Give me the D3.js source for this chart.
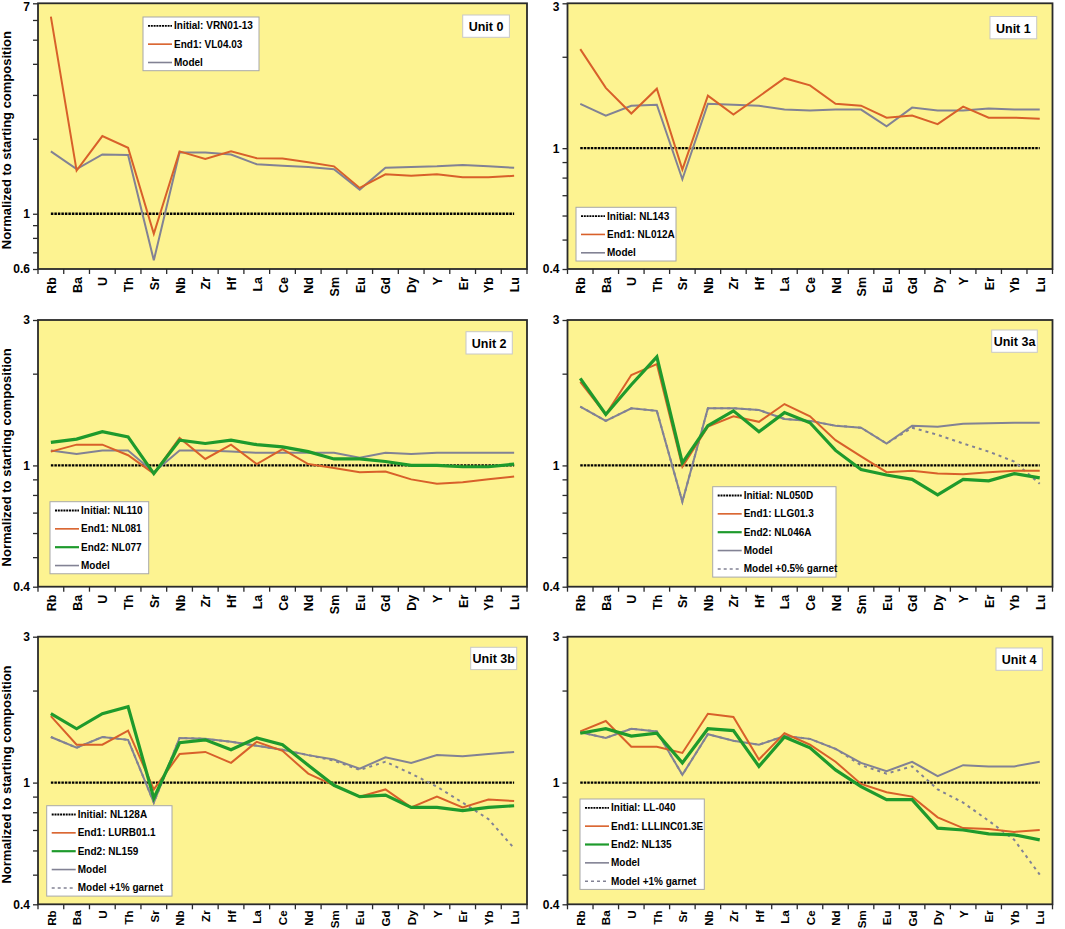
<!DOCTYPE html>
<html><head><meta charset="utf-8">
<script src="https://cdn.jsdelivr.net/npm/d3@7/dist/d3.min.js"></script>
<style>body{margin:0;background:#fff;}svg{display:block;font-family:"Liberation Sans",Arial,sans-serif;}</style>
</head><body>
<svg id="chart" width="1065" height="929"></svg>
<script>
const elements = ["Rb","Ba","U","Th","Sr","Nb","Zr","Hf","La","Ce","Nd","Sm","Eu","Gd","Dy","Y","Er","Yb","Lu"];
const ticksWide = [0.6,0.7,0.8,0.9,1,2,3,4,5,6,7];
const ticksNarrow = [0.4,0.5,0.6,0.7,0.8,0.9,1,2,3];
const labelsWide = [0.6,1,7];
const labelsNarrow = [0.4,1,3];
const initialLevel = [1,1,1,1,1,1,1,1,1,1,1,1,1,1,1,1,1,1,1];

const unit0End1  = [6.19,1.49,2.05,1.84,0.83,1.78,1.66,1.78,1.67,1.665,1.61,1.55,1.27,1.44,1.42,1.44,1.40,1.40,1.42];
const unit0Model = [1.78,1.51,1.73,1.72,0.65,1.76,1.76,1.73,1.58,1.56,1.54,1.51,1.25,1.53,1.54,1.55,1.57,1.55,1.53];

const unit1End1  = [2.12,1.58,1.30,1.57,0.85,1.49,1.29,1.48,1.70,1.61,1.40,1.38,1.26,1.28,1.20,1.37,1.26,1.26,1.25];
const unit1Model = [1.40,1.28,1.38,1.39,0.79,1.40,1.39,1.38,1.34,1.33,1.34,1.34,1.18,1.36,1.33,1.33,1.35,1.34,1.34];

const unit2End1  = [1.11,1.17,1.17,1.08,0.94,1.23,1.05,1.17,1.01,1.13,1.01,0.98,0.95,0.955,0.90,0.87,0.88,0.90,0.92];
const unit2End2  = [1.19,1.22,1.29,1.24,0.94,1.21,1.18,1.21,1.17,1.15,1.11,1.05,1.05,1.03,1.00,1.00,0.99,0.99,1.01];
const unit2Model = [1.12,1.09,1.12,1.12,0.95,1.12,1.12,1.11,1.10,1.10,1.10,1.10,1.06,1.10,1.09,1.10,1.10,1.10,1.10];

const unit3aEnd1   = [1.88,1.47,1.98,2.15,0.99,1.34,1.45,1.39,1.59,1.45,1.21,1.07,0.95,0.96,0.94,0.935,0.95,0.96,0.96];
const unit3aEnd2   = [1.93,1.47,1.84,2.27,1.02,1.35,1.51,1.29,1.49,1.38,1.12,0.97,0.93,0.90,0.80,0.90,0.89,0.94,0.91];
const unit3aModel  = [1.56,1.40,1.54,1.51,0.76,1.54,1.54,1.52,1.42,1.40,1.35,1.33,1.18,1.35,1.34,1.37,1.375,1.38,1.38];
const unit3aGarnet = [1.56,1.40,1.54,1.51,0.76,1.54,1.54,1.52,1.42,1.40,1.35,1.33,1.18,1.33,1.26,1.18,1.11,1.03,0.87];

const unit3bEnd1   = [1.65,1.33,1.33,1.48,0.95,1.24,1.26,1.16,1.36,1.27,1.07,0.98,0.90,0.95,0.83,0.90,0.83,0.88,0.87];
const unit3bEnd2   = [1.68,1.50,1.68,1.77,0.89,1.35,1.38,1.28,1.40,1.33,1.14,0.98,0.90,0.91,0.83,0.83,0.81,0.83,0.84];
const unit3bModel  = [1.41,1.30,1.41,1.38,0.86,1.40,1.39,1.36,1.32,1.28,1.23,1.19,1.11,1.21,1.16,1.23,1.22,1.24,1.26];
const unit3bGarnet = [1.41,1.30,1.41,1.38,0.86,1.40,1.39,1.36,1.32,1.28,1.23,1.18,1.10,1.17,1.07,0.97,0.86,0.76,0.61];

const unit4End1   = [1.47,1.59,1.31,1.31,1.25,1.68,1.64,1.19,1.45,1.33,1.17,0.99,0.93,0.90,0.77,0.71,0.705,0.69,0.70];
const unit4End2   = [1.45,1.50,1.42,1.45,1.16,1.50,1.48,1.13,1.41,1.30,1.10,0.97,0.88,0.88,0.71,0.70,0.68,0.675,0.65];
const unit4Model  = [1.46,1.40,1.50,1.47,1.06,1.44,1.37,1.33,1.42,1.39,1.29,1.16,1.09,1.17,1.05,1.14,1.13,1.13,1.17];
const unit4Garnet = [1.46,1.40,1.50,1.47,1.06,1.44,1.37,1.33,1.42,1.39,1.29,1.14,1.07,1.13,0.95,0.86,0.75,0.65,0.50];

const panelNames = ["Unit 0","Unit 1","Unit 2","Unit 3a","Unit 3b","Unit 4"];
const initialNames = ["VRN01-13","NL143","NL110","NL050D","NL128A","LL-040"];
const end1Names = ["VL04.03","NL012A","NL081","LLG01.3","LURB01.1","LLLINC01.3E"];
const end2Names = [null,null,"NL077","NL046A","NL159","NL135"];
const garnetNames = [null,null,null,"Model +0.5% garnet","Model +1% garnet","Model +1% garnet"];

// ---- styles ----
const C = {bg:"#fdf391", frame:"#2a2a2a", orange:"#d8602a", green:"#1e9a2c", gray:"#828294", black:"#000"};
const styles = {
  initial:{stroke:C.black, w:2.4, dash:"2.5,1", lw:1.8, ldash:"2,0.8"},
  end1:{stroke:C.orange, w:2, dash:null, lw:1.6, ldash:null},
  end2:{stroke:C.green, w:3.2, dash:null, lw:2.2, ldash:null},
  model:{stroke:C.gray, w:2, dash:null, lw:1.6, ldash:null},
  garnet:{stroke:C.gray, w:2, dash:"3,4", lw:1.5, ldash:"3,3"}
};

const panels = [
  {series:{initial:initialLevel,end1:unit0End1,model:unit0Model}, ticks:ticksWide, labels:labelsWide},
  {series:{initial:initialLevel,end1:unit1End1,model:unit1Model}, ticks:ticksNarrow, labels:labelsNarrow},
  {series:{initial:initialLevel,end1:unit2End1,end2:unit2End2,model:unit2Model}, ticks:ticksNarrow, labels:labelsNarrow},
  {series:{initial:initialLevel,end1:unit3aEnd1,end2:unit3aEnd2,model:unit3aModel,garnet:unit3aGarnet}, ticks:ticksNarrow, labels:labelsNarrow},
  {series:{initial:initialLevel,end1:unit3bEnd1,end2:unit3bEnd2,model:unit3bModel,garnet:unit3bGarnet}, ticks:ticksNarrow, labels:labelsNarrow},
  {series:{initial:initialLevel,end1:unit4End1,end2:unit4End2,model:unit4Model,garnet:unit4Garnet}, ticks:ticksNarrow, labels:labelsNarrow}
];

// layout (plot rects, legend and label box positions)
const colX = [[38,527],[567.5,1052.5]];
const rowY = [[3.3,269],[320,586.7],[636.7,904.3]];
const legendPos = [[143,17,116],[576,207.3,100],[50,501.7,98.7],[712.7,486.7,123.3],[46.7,805.7,125.3],[580,799,124.3]];
const labelPos = [[462.7,15,46.7],[990,16.5,46.7],[466,331.7,46.3],[991.7,330,45.6],[470.7,647.3,46],[996,648,46.3]];

const svg = d3.select("#chart");

panels.forEach((p,i)=>{
  const [x0,x1] = colX[i%2];
  const [y0,y1] = rowY[Math.floor(i/2)];
  const row = Math.floor(i/2);
  const dom = [p.ticks[0], p.ticks[p.ticks.length-1]];
  const x = d3.scalePoint().domain(elements).range([x0,x1]).padding(0.5);
  const y = d3.scaleLog().domain(dom).range([y1,y0]);
  const g = svg.append("g");

  g.append("rect").attr("x",x0).attr("y",y0).attr("width",x1-x0).attr("height",y1-y0)
    .attr("fill",C.bg);

  // y axis
  const yAxis = d3.axisLeft(y).tickValues(p.ticks).tickSize(5).tickPadding(3)
    .tickFormat(v=> p.labels.includes(v) ? d3.format("")(v) : "");
  const ya = g.append("g").attr("transform",`translate(${x0},0)`).call(yAxis);
  ya.select(".domain").remove();
  ya.selectAll(".tick line").attr("stroke",C.frame).attr("stroke-width",1.3);
  ya.selectAll(".tick text").attr("font-size",12).attr("font-weight","bold").attr("fill","#000")
    .attr("font-family","'Liberation Sans',Arial,sans-serif")
    .attr("dy", d => (row===0 && d===dom[1]) ? "0.62em" : "0.32em");

  // x axis ticks at boundaries
  const step = x.step();
  const bounds = d3.range(elements.length+1).map(k=>x0+k*step);
  g.selectAll(".xt").data(bounds).enter().append("line")
    .attr("x1",d=>d).attr("x2",d=>d).attr("y1",y1).attr("y2",y1+5)
    .attr("stroke",C.frame).attr("stroke-width",1.3);
  const xAxis = d3.axisBottom(x).tickSize(0).tickPadding(0);
  const xa = g.append("g").attr("transform",`translate(0,${y1})`).call(xAxis);
  xa.select(".domain").remove();
  xa.selectAll(".tick text")
    .attr("transform","rotate(-90)").attr("x",row===2?-6:-8).attr("y",0).attr("dy","0.36em")
    .attr("text-anchor","end").attr("font-size",row===2?11.6:12.5).attr("font-weight","bold").attr("fill","#000")
    .attr("font-family","'Liberation Sans',Arial,sans-serif");

  // y title
  if(i%2===0){
    svg.append("text").attr("transform",`translate(11,${(y0+y1)/2+4}) rotate(-90)`)
      .attr("text-anchor","middle").attr("font-size",13).attr("font-weight","bold")
      .text("Normalized to starting composition");
  }

  // lines
  const line = d3.line().x((d,k)=>x(elements[k])).y(d=>y(d));
  const order = ["initial","model","garnet","end1","end2"];
  order.forEach(key=>{
    const vals = p.series[key];
    if(!vals) return;
    const s = styles[key];
    g.append("path").datum(vals).attr("d",line).attr("fill","none")
      .attr("stroke",s.stroke).attr("stroke-width",s.w)
      .attr("stroke-dasharray",s.dash).attr("stroke-linejoin","miter");
  });

  // frame
  g.append("rect").attr("x",x0).attr("y",y0).attr("width",x1-x0).attr("height",y1-y0)
    .attr("fill","none").attr("stroke",C.frame).attr("stroke-width",1.8);

  // legend
  const items = [
    {key:"initial", text:"Initial: "+initialNames[i]},
    {key:"end1", text:"End1: "+end1Names[i]}
  ];
  if(end2Names[i]) items.push({key:"end2", text:"End2: "+end2Names[i]});
  items.push({key:"model", text:"Model"});
  if(garnetNames[i]) items.push({key:"garnet", text:garnetNames[i]});
  const [lx,ly,lw] = legendPos[i];
  const rowH = 18.35;
  const lh = 17 + (items.length-1)*rowH;
  const lg = svg.append("g").attr("transform",`translate(${lx},${ly})`);
  lg.append("rect").attr("width",lw).attr("height",lh).attr("fill","#fff")
    .attr("stroke","#a8a8a8").attr("stroke-width",1);
  items.forEach((it,k)=>{
    const yy = 8.8 + k*rowH;
    const s = styles[it.key];
    lg.append("line").attr("x1",5).attr("x2",29).attr("y1",yy).attr("y2",yy)
      .attr("stroke",s.stroke).attr("stroke-width",s.lw)
      .attr("stroke-dasharray",s.ldash);
    lg.append("text").attr("x",31).attr("y",yy).attr("dy","0.36em")
      .attr("font-size",10).attr("font-weight","bold").text(it.text);
  });

  // unit label
  const [ux,uy,uw] = labelPos[i];
  const ug = svg.append("g").attr("transform",`translate(${ux},${uy})`);
  ug.append("rect").attr("width",uw).attr("height",22.3).attr("fill","#fff")
    .attr("stroke","#c8c8c8").attr("stroke-width",1);
  ug.append("text").attr("x",uw/2).attr("y",11.5).attr("dy","0.36em").attr("text-anchor","middle")
    .attr("font-size",12.5).attr("font-weight","bold").text(panelNames[i]);
});
</script>
</body></html>
